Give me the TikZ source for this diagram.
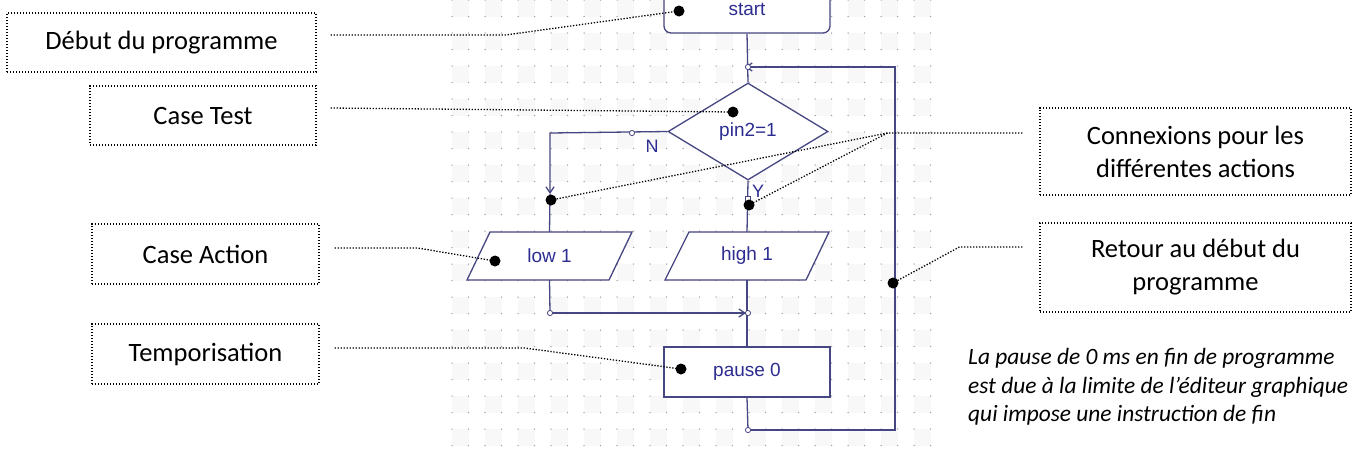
\documentclass[tikz,border=0pt]{standalone}
\usepackage{fontspec}
\setmainfont{Carlito}
\newfontfamily\arialfont{Liberation Sans}
\usetikzlibrary{arrows.meta,shapes.geometric}

\definecolor{flowline}{RGB}{70,70,130}
\definecolor{flowtext}{RGB}{45,45,145}
\definecolor{griddot}{RGB}{160,160,160}
\definecolor{gridcell}{RGB}{248,248,248}

\tikzset{
  flow/.style={draw=flowline, line width=1.3pt},
  flowbox/.style={flow, fill=white, text=flowtext, inner sep=0pt,
    font=\arialfont\fontsize{19}{22}\selectfont},
  flowtextonly/.style={text=flowtext, inner sep=0pt,
    font=\arialfont\fontsize{19}{22}\selectfont},
  flowlabel/.style={text=flowtext, inner sep=0pt,
    font=\arialfont\fontsize{18}{22}\selectfont},
  callout/.style={draw, line width=1.2pt, dash pattern=on 1.2pt off 1.8pt,
    align=center, inner sep=0pt, font=\fontsize{26.5}{33}\selectfont},
  leader/.style={line width=1.3pt, dash pattern=on 1.3pt off 1.7pt},
  joint/.style={draw=flowline, fill=white, line width=0.8pt},
  barb/.style={-{Straight Barb[length=6pt,width=8pt]}},
}

\begin{document}
\begin{tikzpicture}[x=1pt,y=-1pt]
\useasboundingbox (0,0) rectangle (1364,459);
\clip (0,0) rectangle (1364,459);
% grid of the editor
\foreach \i in {0,2,...,28}
  \foreach \j in {0,2,...,26}
    \fill[gridcell] ({452+16.5*\i},{16.5*\j}) rectangle ++(16.5,16.5);
\foreach \i in {0,...,29}
  \foreach \j in {0,...,27}
    \fill[griddot] ({452+16.5*\i},{16.5*\j}) circle[radius=0.75pt];

% flowchart
\node[flowbox, rounded corners=7pt, minimum width=166pt, minimum height=48pt] (start) at (747,9) {start};
\node[flowbox, shape=diamond, minimum width=160pt, minimum height=97pt] (test) at (748,131.5) {pin2=1};
\coordinate (lowC) at (549.5,256);
\coordinate (highC) at (747,256);
\filldraw[flow, fill=white] ([shift={(-59.5,-24)}]lowC) -- ([shift={(82.5,-24)}]lowC)
  -- ([shift={(59.5,24)}]lowC) -- ([shift={(-82.5,24)}]lowC) -- cycle;
\filldraw[flow, fill=white] ([shift={(-58,-24)}]highC) -- ([shift={(82,-24)}]highC)
  -- ([shift={(59,24)}]highC) -- ([shift={(-82,24)}]highC) -- cycle;
\node[flowtextonly, minimum width=142pt, minimum height=48pt] (low) at (lowC) {low 1};
\node[flowtextonly, minimum width=142pt, minimum height=48pt] (high) at (highC) {high 1};
\node[flowbox, minimum width=166pt, minimum height=50pt] (pause) at (747,372) {pause 0};
\node[flowlabel] (lblN) at (652,146) {N};
\node[flowlabel] (lblY) at (758,191) {Y};

\coordinate (jTop) at (748,67);
\coordinate (jN) at (632,133);
\coordinate (nCorner) at (550,133);
\coordinate (nArrow) at (550,194);
\coordinate (jY) at (748,199);
\coordinate (jLow) at (550,313);
\coordinate (jMerge) at (748,313);
\coordinate (jEnd) at (748,430);
\coordinate (loopBot) at (895,430);
\coordinate (loopTop) at (895,67);

\draw[flow] (start.south) -- (test.north);
\draw[flow, barb, shorten >=-3pt] (jEnd) -- (loopBot) -- (loopTop) -- (jTop);
\draw[flow, barb] (test.west) -- (nCorner) -- (nArrow);
\draw[flow] (nArrow) -- (low.north);
\draw[flow] (test.south) -- (high.north);
\draw[flow] (low.south) -- (jLow);
\draw[flow, barb, shorten >=2pt] (jLow) -- (jMerge);
\draw[flow] (high.south) -- (pause.north);
\draw[flow] (pause.south) -- (jEnd);
\foreach \p in {jTop,jN,jLow,jMerge,jEnd}
  \draw[joint] (\p) circle[radius=2.6pt];
\draw[joint] ([xshift=-2.5pt,yshift=-2.5pt]jY) rectangle ([xshift=2.5pt,yshift=2.5pt]jY);

% callouts
\node[callout, minimum width=309pt, minimum height=59pt] (debut) at (161.5,42.5) {Début du programme};
\node[callout, minimum width=226pt, minimum height=59pt] (casetest) at (203,115.5) {Case Test};
\node[callout, minimum width=227pt, minimum height=60pt] (caseaction) at (205.5,254) {Case Action};
\node[callout, minimum width=227pt, minimum height=60pt] (tempo) at (205.5,354) {Temporisation};
\node[callout, minimum width=311pt, minimum height=87pt] (connex) at (1195.5,151.5) {Connexions pour les\\différentes actions};
\node[callout, minimum width=311pt, minimum height=89pt] (retour) at (1195.5,267.5) {Retour au début du\\programme};
\node[anchor=west, align=left, inner sep=0pt, font=\itshape\fontsize{23.4}{28.5}\selectfont] (remarque) at (968,387)
  {La pause de 0 ms en fin de programme\\est due à la limite de l’éditeur graphique\\qui impose une instruction de fin};

% leaders
\coordinate (dDebut) at (679,11);
\coordinate (dTest) at (733,112);
\coordinate (dLow) at (551,200);
\coordinate (dHigh) at (749,205);
\coordinate (dAction) at (495,261);
\coordinate (dTempo) at (681,369);
\coordinate (dRetour) at (893,283);
\draw[leader] ([xshift=14pt,yshift=7.5pt]debut.east) -- ++(175,0) -- (dDebut);
\draw[leader] ([xshift=14pt,yshift=7.5pt]casetest.east) -- (dTest);
\draw[leader] ([xshift=15pt,yshift=6pt]caseaction.east) -- ++(83,0) -- (dAction);
\draw[leader] ([xshift=15pt,yshift=6pt]tempo.east) -- ++(190,0) -- (dTempo);
\draw[leader] ([xshift=-17pt,yshift=18.5pt]connex.west) -- ++(-135,0) coordinate (cBend) -- (dLow);
\draw[leader] (cBend) -- (dHigh);
\draw[leader] ([xshift=-17pt,yshift=20.5pt]retour.west) -- ++(-63,0) -- (dRetour);
\foreach \p in {dDebut,dTest,dLow,dHigh,dAction,dTempo,dRetour}
  \fill (\p) circle[radius=5.5pt];
\end{tikzpicture}
\end{document}
